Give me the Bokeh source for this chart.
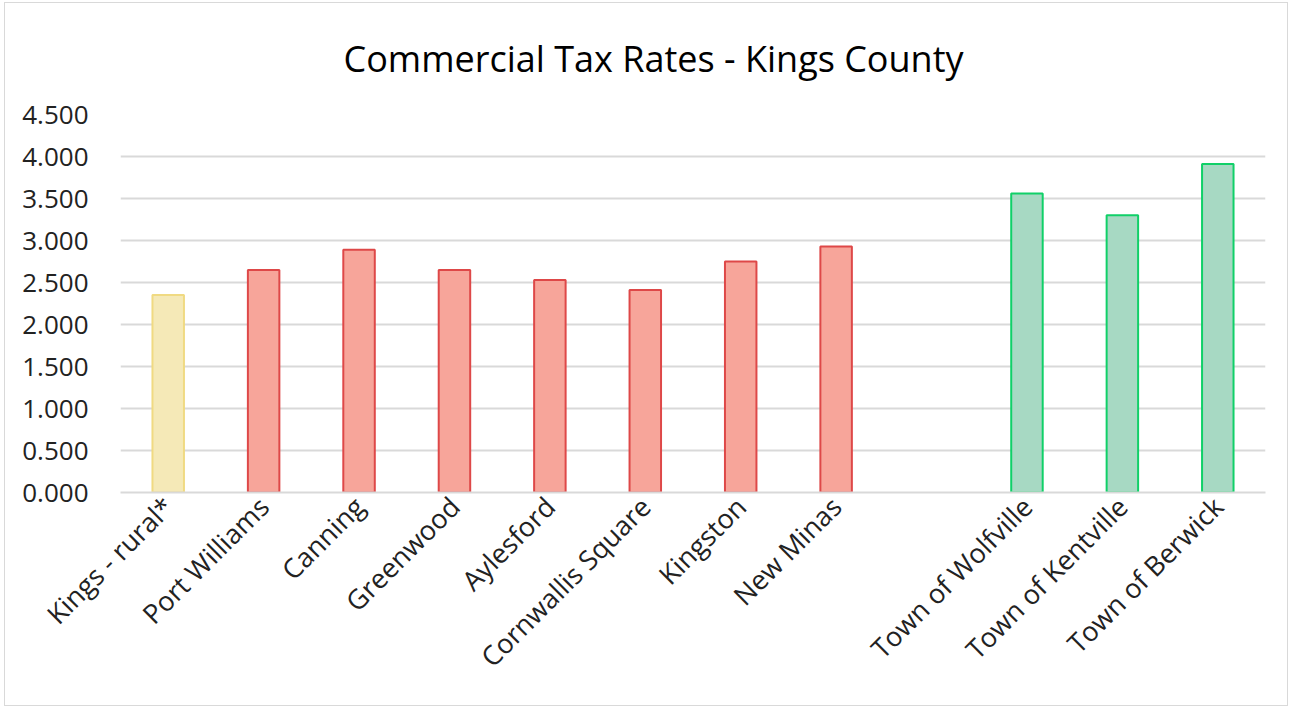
from bokeh.plotting import figure
from bokeh.models import FactorRange, NumeralTickFormatter, FixedTicker
from bokeh.embed import file_html
from bokeh.resources import INLINE
import math

# ---- data ----
title_text = "Commercial Tax Rates - Kings County"
slots = ["Kings - rural*", "Port Williams", "Canning", "Greenwood", "Aylesford",
         "Cornwallis Square", "Kingston", "New Minas", " ",
         "Town of Wolfville", "Town of Kentville", "Town of Berwick"]
rural = ["Kings - rural*"]
rural_vals = [2.35]
villages = ["Port Williams", "Canning", "Greenwood", "Aylesford",
            "Cornwallis Square", "Kingston", "New Minas"]
village_vals = [2.65, 2.89, 2.65, 2.53, 2.41, 2.75, 2.93]
towns = ["Town of Wolfville", "Town of Kentville", "Town of Berwick"]
town_vals = [3.56, 3.30, 3.91]
y_ticks = [0, 0.5, 1.0, 1.5, 2.0, 2.5, 3.0, 3.5, 4.0, 4.5]

FONT = "Open Sans"

p = figure(x_range=FactorRange(*slots), y_range=(0, 4.5),
           width=1284, height=704, output_backend="svg", toolbar_location=None,
           title=title_text,
           min_border_left=115, min_border_right=24, min_border_top=111,
           min_border_bottom=215)
p.margin = (2, 0, 0, 4)
p.styles = {"border": "1px solid #d9d9d9"}

p.title.align = "left"
p.title.offset = 223
p.title.vertical_align = "top"
p.title.text_font = FONT
p.title.text_font_size = "36px"
p.title.text_font_style = "normal"
p.title.text_color = "#000000"
p.title.standoff = 60

p.outline_line_color = None
p.background_fill_color = "white"
p.border_fill_color = "white"

# grid
p.xgrid.grid_line_color = None
p.ygrid.grid_line_color = "#d9d9d9"
p.ygrid.grid_line_width = 2
p.yaxis.ticker = FixedTicker(ticks=y_ticks)

# y axis
p.yaxis.formatter = NumeralTickFormatter(format="0.000")
p.yaxis.axis_line_color = None
p.yaxis.major_tick_line_color = None
p.yaxis.minor_tick_line_color = None
p.yaxis.major_label_standoff = 26
p.yaxis.major_label_text_font = FONT
p.yaxis.major_label_text_font_size = "26px"
p.yaxis.major_label_text_color = "#222222"

# x axis
p.xaxis.axis_line_color = "#d9d9d9"
p.xaxis.axis_line_width = 2
p.xaxis.major_tick_line_color = None
p.xaxis.minor_tick_line_color = None
p.xaxis.major_label_orientation = math.pi / 4
p.xaxis.major_label_standoff = 3
p.xaxis.major_label_text_font = FONT
p.xaxis.major_label_text_font_size = "27px"
p.xaxis.major_label_text_color = "#222222"

bw = 0.33
p.vbar(x=rural, top=rural_vals, width=bw, bottom=0,
       fill_color="#F5E9B7", line_color="#F0DA82", line_width=2)
p.vbar(x=villages, top=village_vals, width=bw, bottom=0,
       fill_color="#F7A59A", line_color="#DE4848", line_width=2)
p.vbar(x=towns, top=town_vals, width=bw, bottom=0,
       fill_color="#A7D9C3", line_color="#10D068", line_width=2)

open("out.html", "w").write(file_html(p, INLINE))
